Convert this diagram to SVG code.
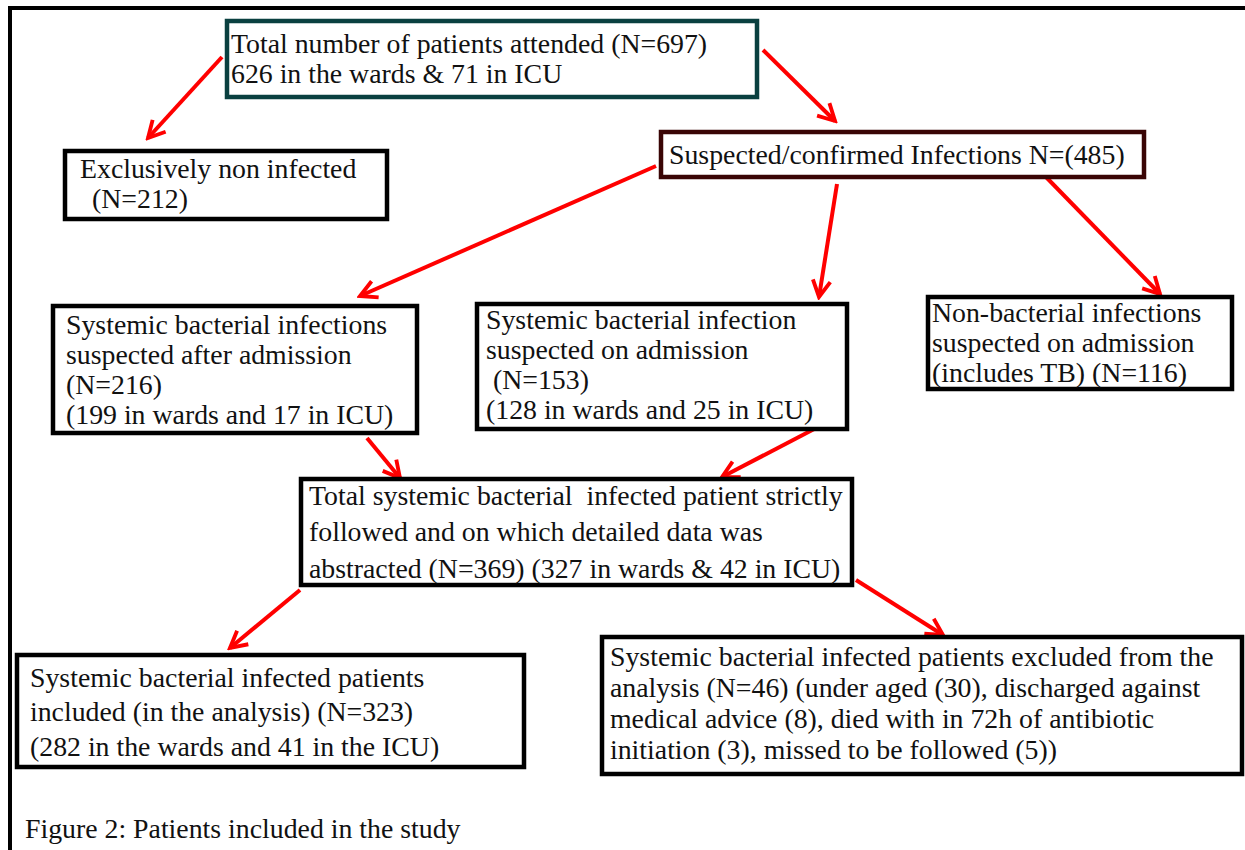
<svg xmlns="http://www.w3.org/2000/svg" width="1245" height="850" viewBox="0 0 1245 850">
<style>
text{font-family:"Liberation Serif","Times New Roman",serif;font-size:27.8px;fill:#111;}
.box{fill:#fff;stroke:#000;stroke-width:4.5;}
.conn{stroke:#ff0000;stroke-width:4;fill:none;marker-end:url(#ah);}
</style>
<defs>
<marker id="ah" viewBox="0 0 20 20" refX="17" refY="10" markerWidth="22" markerHeight="22" markerUnits="userSpaceOnUse" orient="auto">
<path d="M2,2 L17,10 L2,18" fill="none" stroke="#ff0000" stroke-width="3.5"/>
</marker>
</defs>
<rect width="1245" height="850" fill="#fff"/>
<g id="frame">
<line x1="8" y1="8" x2="1245" y2="8" stroke="#000" stroke-width="4"/>
<line x1="10" y1="6" x2="10" y2="850" stroke="#000" stroke-width="4"/>
</g>
<g id="connectors">
<line class="conn" x1="222" y1="57" x2="148" y2="138"/>
<line class="conn" x1="763" y1="50" x2="835" y2="121"/>
<line class="conn" x1="656" y1="166" x2="360" y2="296"/>
<line class="conn" x1="837" y1="184" x2="819" y2="297"/>
<line class="conn" x1="1046" y1="177" x2="1160" y2="294"/>
<line class="conn" x1="367" y1="438" x2="400" y2="478"/>
<line class="conn" x1="818" y1="427" x2="722" y2="477"/>
<line class="conn" x1="300" y1="590" x2="230" y2="648"/>
<line class="conn" x1="856" y1="580" x2="943" y2="635"/>
</g>
<g id="n-total">
<rect class="box" x="227" y="21" width="530" height="76" style="stroke:#0a4040"/>
<text x="231" y="53">Total number of patients attended (N=697)</text>
<text x="231" y="83">626 in the wards &amp; 71 in ICU</text>
</g>
<g id="n-noninfected">
<rect class="box" x="65" y="151" width="322" height="68"/>
<text x="80" y="178">Exclusively non infected</text>
<text x="92" y="208">(N=212)</text>
</g>
<g id="n-suspected">
<rect class="box" x="661" y="132" width="483" height="45" style="stroke:#3a0505"/>
<text x="669" y="164">Suspected/confirmed Infections N=(485)</text>
</g>
<g id="n-after">
<rect class="box" x="53" y="306" width="364" height="127"/>
<text x="66" y="334">Systemic bacterial infections</text>
<text x="66" y="364">suspected after admission</text>
<text x="66" y="394">(N=216)</text>
<text x="66" y="424">(199 in wards and 17 in ICU)</text>
</g>
<g id="n-onadmission">
<rect class="box" x="477" y="304" width="370" height="125"/>
<text x="486" y="329">Systemic bacterial infection</text>
<text x="486" y="359">suspected on admission</text>
<text x="486" y="389" xml:space="preserve"> (N=153)</text>
<text x="486" y="419">(128 in wards and 25 in ICU)</text>
</g>
<g id="n-nonbacterial">
<rect class="box" x="928" y="297" width="304" height="92"/>
<text x="932" y="322">Non-bacterial infections</text>
<text x="932" y="352">suspected on admission</text>
<text x="932" y="382">(includes TB) (N=116)</text>
</g>
<g id="n-totalsystemic">
<rect class="box" x="301" y="479" width="551" height="106"/>
<text x="309" y="505" xml:space="preserve">Total systemic bacterial  infected patient strictly</text>
<text x="309" y="541">followed and on which detailed data was</text>
<text x="309" y="578">abstracted (N=369) (327 in wards &amp; 42 in ICU)</text>
</g>
<g id="n-included">
<rect class="box" x="17" y="655" width="507" height="112"/>
<text x="30" y="687">Systemic bacterial infected patients</text>
<text x="30" y="721">included (in the analysis) (N=323)</text>
<text x="30" y="756">(282 in the wards and 41 in the ICU)</text>
</g>
<g id="n-excluded">
<rect class="box" x="602" y="637" width="640" height="137"/>
<text x="610" y="666">Systemic bacterial infected patients excluded from the</text>
<text x="610" y="697">analysis (N=46) (under aged (30), discharged against</text>
<text x="610" y="728">medical advice (8), died with in 72h of antibiotic</text>
<text x="610" y="759">initiation (3), missed to be followed (5))</text>
</g>
<text x="25" y="838">Figure 2: Patients included in the study</text>
</svg>
